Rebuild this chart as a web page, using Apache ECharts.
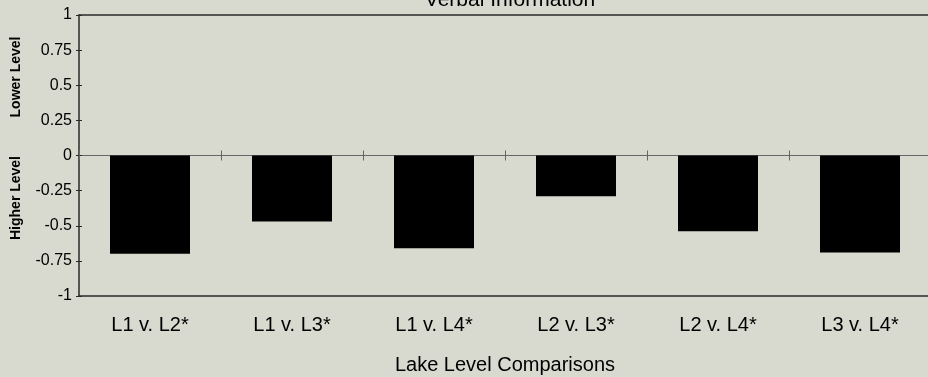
<!DOCTYPE html>
<html>
<head>
<meta charset="utf-8">
<script src="https://cdn.jsdelivr.net/npm/echarts@6/dist/echarts.min.js"></script>
<style>
html,body{margin:0;padding:0;background:#d8dacf;}
#chart{width:928px;height:377px;}
</style>
</head>
<body>
<div id="chart"></div>
<script>
const categories = ['L1 v. L2*', 'L1 v. L3*', 'L1 v. L4*', 'L2 v. L3*', 'L2 v. L4*', 'L3 v. L4*'];
const values = [-0.70, -0.47, -0.66, -0.29, -0.54, -0.69];
const yTickLabels = {'1':'1','0.75':'0.75','0.5':'0.5','0.25':'0.25','0':'0','-0.25':'-0.25','-0.5':'-0.5','-0.75':'-0.75','-1':'-1'};
const titleText = 'Verbal Information';
const xAxisTitle = 'Lake Level Comparisons';
const upperLabel = 'Lower Level';
const lowerLabel = 'Higher Level';

const chart = echarts.init(document.getElementById('chart'), null, {renderer:'canvas'});
const font = 'Liberation Sans, Arial, Helvetica, sans-serif';
const option = {
  backgroundColor: '#d8dacf',
  animation: false,
  textStyle: {fontFamily: font},
  title: {
    text: titleText, left: 505, textAlign: 'center', top: -15,
    textStyle: {fontFamily: font, fontSize: 21, fontWeight: 'normal', color: '#000'}
  },
  grid: {
    left: 79, top: 15, width: 852, height: 281,
    outerBoundsMode: 'none', containLabel: false,
    show: false
  },
  graphic: [
    {type:'text', x: 16, y: 77, rotation: Math.PI/2,
     style:{text: upperLabel, fontFamily: font, fontSize: 14, fontWeight:'bold', fill:'#000', textAlign:'center', textVerticalAlign:'middle'}},
    {type:'text', x: 16, y: 198, rotation: Math.PI/2,
     style:{text: lowerLabel, fontFamily: font, fontSize: 14, fontWeight:'bold', fill:'#000', textAlign:'center', textVerticalAlign:'middle'}}
  ],
  xAxis: [
    {
      type: 'category', data: categories, position: 'bottom',
      axisLine: {show: true, onZero: false, lineStyle: {color: '#2a2a2a', width: 1.5}},
      axisTick: {show: false},
      axisLabel: {margin: 19, fontSize: 20, color: '#000', fontFamily: font},
      name: xAxisTitle, nameLocation: 'middle', nameGap: 59,
      nameTextStyle: {fontSize: 20, color: '#000', fontFamily: font}
    },
    {
      type: 'category', data: categories, position: 'bottom',
      axisLine: {show: true, onZero: true, onZeroAxisIndex: 0, lineStyle: {color: '#666', width: 1}},
      axisTick: {show: true, length: 5, lineStyle: {color: '#666'}},
      axisLabel: {show: false}
    },
    {
      type: 'category', data: categories, position: 'top',
      axisLine: {show: true, onZero: true, onZeroAxisIndex: 0, lineStyle: {color: '#666', width: 1}},
      axisTick: {show: true, length: 5, lineStyle: {color: '#666'}},
      axisLabel: {show: false}
    },
    {
      type: 'category', data: categories, position: 'top',
      axisLine: {show: true, onZero: false, lineStyle: {color: '#2a2a2a', width: 1.5}},
      axisTick: {show: false},
      axisLabel: {show: false}
    }
  ],
  yAxis: [
    {
      type: 'value', min: -1, max: 1, interval: 0.25, position: 'left',
      axisLine: {show: true, onZero: false, lineStyle: {color: '#2a2a2a', width: 1.5}},
      axisTick: {show: true, length: 3, lineStyle: {color: '#2a2a2a'}},
      splitLine: {show: false},
      axisLabel: {margin: 7, fontSize: 16, color: '#000', fontFamily: font,
        formatter: v => yTickLabels[String(v)] !== undefined ? yTickLabels[String(v)] : String(v)}
    },
    {
      type: 'value', min: -1, max: 1, interval: 0.25, position: 'left',
      axisLine: {show: false, onZero: false},
      axisTick: {show: true, inside: true, length: 3, lineStyle: {color: '#2a2a2a'}},
      splitLine: {show: false},
      axisLabel: {show: false}
    }
  ],
  series: [{
    type: 'bar', data: values, xAxisIndex: 0, yAxisIndex: 0,
    barWidth: 80,
    itemStyle: {color: '#000'}
  }]
};
chart.setOption(option);
</script>
</body>
</html>
